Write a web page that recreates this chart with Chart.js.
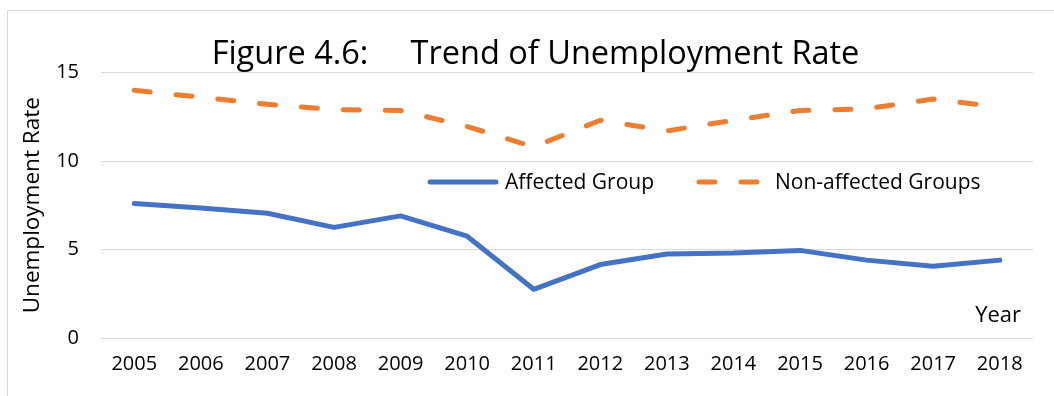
<!DOCTYPE html>
<html>
<head>
<meta charset="utf-8">
<script src="https://cdn.jsdelivr.net/npm/chart.js@4.4.1/dist/chart.umd.min.js"></script>
<style>
  body { margin: 0; background: #fff; }
  canvas { display: block; }
</style>
</head>
<body>
<canvas id="chart" width="1054" height="396"></canvas>
<script>
// values
const years = ["2005", "2006", "2007", "2008", "2009", "2010", "2011",
               "2012", "2013", "2014", "2015", "2016", "2017", "2018"];
const affected = [7.6, 7.35, 7.05, 6.25, 6.9, 5.75, 2.75, 4.15, 4.75, 4.8, 4.95, 4.4, 4.05, 4.4];
const nonAffected = [14.0, 13.6, 13.2, 12.9, 12.85, 11.95, 10.8, 12.3, 11.7, 12.3, 12.85, 12.95, 13.5, 13.05];
const yTicks = [0, 5, 10, 15];

const FONT = "'Open Sans', sans-serif";

// outer frame + legend inside the plot + "Year" label
const extras = {
    id: "extras",
    beforeDraw(chart) {
        const ctx = chart.ctx;
        ctx.save();
        ctx.strokeStyle = "#d9d9d9";
        ctx.lineWidth = 1;
        ctx.strokeRect(7.5, 10.5, 1200, 600);
        ctx.restore();
    },
    afterDatasetsDraw(chart) {
        const ctx = chart.ctx;
        const ds = chart.data.datasets;
        ctx.save();
        ctx.font = "21px " + FONT;
        ctx.fillStyle = "#000";
        ctx.textBaseline = "middle";

        // legend items
        const items = [
            { x: 430, len: 66, textX: 505 },
            { x: 699, len: 62, textX: 775 },
        ];
        const y = 182;
        items.forEach((it, i) => {
            ctx.beginPath();
            ctx.strokeStyle = ds[i].borderColor;
            ctx.lineWidth = ds[i].borderWidth;
            ctx.lineCap = "round";
            ctx.setLineDash(ds[i].borderDash || []);
            ctx.moveTo(it.x, y);
            ctx.lineTo(it.x + it.len, y);
            ctx.stroke();
            ctx.setLineDash([]);
            ctx.textAlign = "left";
            ctx.fillText(ds[i].label, it.textX, y + 1);
        });

        // x axis title sits inside the plot, bottom right
        ctx.font = "22px " + FONT;
        ctx.textAlign = "right";
        ctx.fillText("Year", 1021, 316);
        ctx.restore();
    }
};

new Chart(document.getElementById("chart"), {
    type: "line",
    data: {
        labels: years,
        datasets: [
            {
                label: "Affected Group",
                data: affected,
                borderColor: "#4472C4",
                backgroundColor: "#4472C4",
                borderWidth: 5,
                pointRadius: 0,
                tension: 0,
                borderCapStyle: "round",
                borderJoinStyle: "round",
            },
            {
                label: "Non-affected Groups",
                data: nonAffected,
                borderColor: "#ED7D31",
                backgroundColor: "#ED7D31",
                borderWidth: 5,
                borderDash: [16, 26],
                pointRadius: 0,
                tension: 0,
                borderCapStyle: "round",
                borderJoinStyle: "round",
            },
        ],
    },
    options: {
        responsive: false,
        animation: false,
        layout: { padding: { left: 38, right: 21, top: 38, bottom: 0 } },
        plugins: {
            legend: { display: false },
            tooltip: { enabled: false },
            title: {
                display: true,
                text: "Figure 4.6:     Trend of Unemployment Rate",
                color: "#000",
                font: { family: FONT, size: 32.5, weight: "normal", lineHeight: 1 },
                padding: { top: 0, bottom: 2 },
            },
        },
        scales: {
            x: {
                offset: true,
                grid: { display: false, drawTicks: false },
                border: { display: false },
                ticks: { color: "#000", font: { family: FONT, size: 20 }, padding: 14, maxRotation: 0 },
                afterFit(s) { s.height = 58; },
            },
            y: {
                min: 0,
                max: 15,
                afterBuildTicks(s) { s.ticks = yTicks.map(v => ({ value: v })); },
                grid: { color: "#d9d9d9", lineWidth: 1, drawTicks: false },
                border: { display: false },
                ticks: { color: "#000", font: { family: FONT, size: 20 }, padding: 22 },
                title: {
                    display: true,
                    text: "Unemployment Rate",
                    color: "#000",
                    font: { family: FONT, size: 22.5 },
                    padding: { top: -19, bottom: 0 },
                },
                afterFit(s) { s.width = 63; },
            },
        },
    },
    plugins: [extras],
});
</script>
</body>
</html>
